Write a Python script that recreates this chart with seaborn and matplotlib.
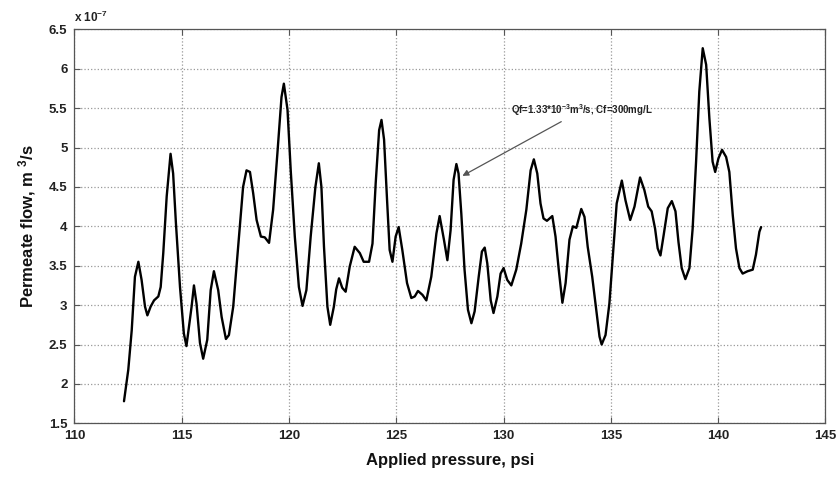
import matplotlib
matplotlib.use("Agg")
import matplotlib.pyplot as plt
import seaborn as sns
import pandas as pd

pressure = [112.31, 112.51, 112.67, 112.82, 112.98, 113.13, 113.29, 113.40, 113.55, 113.71,
            113.91, 114.02, 114.14, 114.30, 114.48, 114.60, 114.73, 114.92, 115.10, 115.22,
            115.35, 115.46, 115.57, 115.69, 115.85, 116.00, 116.19, 116.35, 116.50, 116.70,
            116.86, 117.06, 117.20, 117.40, 117.63, 117.86, 118.02, 118.18, 118.33, 118.49,
            118.69, 118.87, 119.07, 119.26, 119.46, 119.65, 119.76, 119.93, 120.08, 120.27,
            120.46, 120.63, 120.81, 121.01, 121.23, 121.39, 121.51, 121.63, 121.79, 121.92,
            122.09, 122.20, 122.33, 122.48, 122.64, 122.83, 123.06, 123.30, 123.48, 123.73,
            123.89, 124.04, 124.20, 124.31, 124.43, 124.57, 124.69, 124.82, 124.97, 125.11,
            125.28, 125.50, 125.70, 125.86, 126.01, 126.22, 126.40, 126.63, 126.87, 127.02,
            127.22, 127.38, 127.53, 127.67, 127.80, 127.90, 128.03, 128.18, 128.34, 128.50,
            128.65, 128.84, 128.99, 129.12, 129.24, 129.40, 129.53, 129.71, 129.86, 130.00,
            130.17, 130.36, 130.59, 130.82, 131.06, 131.26, 131.41, 131.57, 131.72, 131.86,
            132.02, 132.27, 132.42, 132.57, 132.74, 132.89, 133.07, 133.23, 133.39, 133.62,
            133.77, 133.92, 134.13, 134.32, 134.47, 134.57, 134.75, 134.93, 135.09, 135.27,
            135.51, 135.68, 135.90, 136.10, 136.36, 136.56, 136.74, 136.90, 137.06, 137.18,
            137.31, 137.46, 137.65, 137.84, 138.01, 138.15, 138.30, 138.47, 138.66, 138.81,
            138.97, 139.12, 139.28, 139.44, 139.59, 139.74, 139.86, 140.01, 140.18, 140.37,
            140.52, 140.68, 140.83, 140.99, 141.14, 141.37, 141.61, 141.76, 141.92, 142.00]
flow_e7 = [1.78, 2.18, 2.68, 3.36, 3.55, 3.32, 2.98, 2.87, 2.98, 3.06,
           3.11, 3.23, 3.66, 4.38, 4.92, 4.67, 4.04, 3.23, 2.64, 2.48,
           2.75, 2.98, 3.25, 3.02, 2.52, 2.32, 2.56, 3.19, 3.43, 3.19,
           2.85, 2.57, 2.62, 2.98, 3.74, 4.50, 4.71, 4.69, 4.42, 4.08,
           3.87, 3.86, 3.79, 4.21, 4.93, 5.64, 5.81, 5.48, 4.71, 3.87,
           3.23, 2.99, 3.19, 3.87, 4.50, 4.80, 4.50, 3.74, 2.98, 2.75,
           2.98, 3.20, 3.34, 3.22, 3.17, 3.49, 3.74, 3.66, 3.55, 3.55,
           3.78, 4.55, 5.22, 5.35, 5.10, 4.33, 3.70, 3.55, 3.87, 3.99,
           3.70, 3.28, 3.09, 3.11, 3.18, 3.13, 3.06, 3.36, 3.91, 4.13,
           3.83, 3.57, 3.95, 4.59, 4.79, 4.67, 4.16, 3.45, 2.94, 2.77,
           2.92, 3.36, 3.68, 3.73, 3.53, 3.06, 2.90, 3.11, 3.40, 3.47,
           3.32, 3.25, 3.45, 3.78, 4.21, 4.71, 4.85, 4.67, 4.29, 4.10,
           4.07, 4.13, 3.87, 3.45, 3.03, 3.28, 3.83, 4.00, 3.98, 4.22,
           4.12, 3.74, 3.36, 2.94, 2.60, 2.50, 2.62, 3.02, 3.61, 4.29,
           4.58, 4.33, 4.08, 4.25, 4.62, 4.46, 4.25, 4.19, 3.97, 3.72,
           3.63, 3.89, 4.23, 4.32, 4.19, 3.80, 3.47, 3.33, 3.47, 3.97,
           4.82, 5.71, 6.26, 6.05, 5.37, 4.82, 4.69, 4.86, 4.97, 4.88,
           4.69, 4.14, 3.72, 3.47, 3.40, 3.43, 3.45, 3.64, 3.93, 3.99]
x_ticks = [110, 115, 120, 125, 130, 135, 140, 145]
y_ticks = [1.5, 2, 2.5, 3, 3.5, 4, 4.5, 5, 5.5, 6, 6.5]
y_tick_labels = ["1.5", "2", "2.5", "3", "3.5", "4", "4.5", "5", "5.5", "6", "6.5"]

sns.set_style("white")
plt.rcParams['font.family'] = ['Liberation Sans', 'DejaVu Sans']
plt.rcParams['mathtext.fontset'] = 'custom'
plt.rcParams['mathtext.rm'] = 'Liberation Sans:bold'
plt.rcParams['mathtext.it'] = 'Liberation Sans:bold'
plt.rcParams['mathtext.bf'] = 'Liberation Sans:bold'

df = pd.DataFrame({"pressure": pressure, "flow": flow_e7})

fig = plt.figure(figsize=(8.4, 4.78), dpi=100)
ax = fig.add_axes([0.0886, 0.1144, 0.8941, 0.8243])
sns.lineplot(data=df, x="pressure", y="flow", sort=False, color="black", linewidth=1.7,
             ax=ax, solid_joinstyle="round", solid_capstyle="round")

ax.set_xlim(110, 145)
ax.set_ylim(1.5, 6.5)
ax.set_xticks(x_ticks)
ax.set_xticklabels([str(t) for t in x_ticks], fontsize=9.5, fontweight="bold", color="#222222")
ax.set_yticks(y_ticks)
ax.set_yticklabels(y_tick_labels, fontsize=9.5, fontweight="bold", color="#222222")
ax.grid(True, linestyle=":", color="#999999", linewidth=0.9)
ax.tick_params(direction="in", length=4, width=0.8, color="#555555",
               top=True, right=True, bottom=True, left=True, pad=5)
for s in ax.spines.values():
    s.set_color("#555555")
    s.set_linewidth(0.9)

ax.set_xlabel("Applied pressure, psi", fontsize=12, fontweight="bold", labelpad=8, color="#111111")
ax.set_ylabel("Permeate flow, m $^{3}$/s", fontsize=12, fontweight="bold", labelpad=8, color="#111111")
ax.text(0.0, 1.012, r"x 10$^{-7}$", transform=ax.transAxes, fontsize=8.5,
        fontweight="bold", ha="left", va="bottom", color="#222222")

ax.annotate(r"Qf=1.33*10$^{-3}$m$^{3}$/s, Cf=300mg/L", xy=(128.08, 4.64), xytext=(130.33, 5.47),
            fontsize=7, fontweight="bold", ha="left", va="center", color="#222222",
            arrowprops=dict(arrowstyle="-|>", color="#555555", lw=0.9, shrinkA=0, shrinkB=0,
                            mutation_scale=9))

fig.savefig("out.png", dpi=100, facecolor="white")
